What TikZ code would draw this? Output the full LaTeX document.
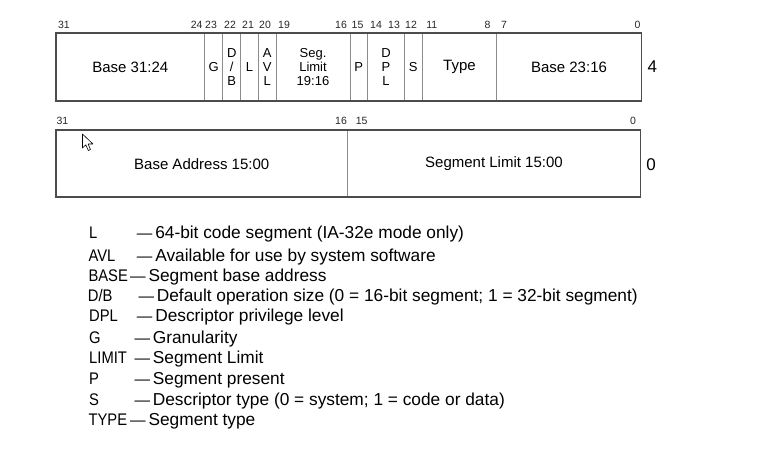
\documentclass[tikz,border=0pt]{standalone}
\usepackage{fontspec}
\setmainfont{Liberation Sans}
\newfontfamily\abbrfont[FakeStretch=0.88]{Liberation Sans}
\newcommand{\legdash}{{\fontsize{15.5}{18}\selectfont —}\,}
\begin{document}
\begin{tikzpicture}[x=1pt,y=-1pt,
  bitnum/.style={font=\fontsize{10.5}{11}\selectfont, anchor=base, inner sep=0, text=black!85},
  fieldtext/.style={font=\fontsize{15}{16}\selectfont, inner sep=0},
  coltext/.style={font=\fontsize{13}{14}\selectfont, inner sep=0, align=center},
  divider/.style={draw=black!45, line width=0.8pt},
  frame/.style={draw=black!70, line width=1.1pt},
  rowlabel/.style={font=\fontsize{17}{18}\selectfont, inner sep=0},
  abbr/.style={font=\abbrfont\fontsize{16.8}{18}\selectfont, anchor=base west, inner sep=0},
  desc/.style={font=\fontsize{17.3}{18}\selectfont, anchor=base west, inner sep=0}]
\useasboundingbox (0,0) rectangle (783,467);

% ---- upper descriptor word (offset 4) ----
\foreach \x in {204.7,222.7,240.7,258.3,276,350,367.7,404.3,422.3,496.7}
  \draw[divider] (\x,33) -- (\x,101);
\draw[frame] (56,33) rectangle (641.5,101);

\node[fieldtext] (b3124) at (130.3,67) {Base 31:24};
\node[coltext] (g)   at (213.7,67) {G};
\node[coltext] (db)  at (231.7,67) {D\\/\\B};
\node[coltext] (l)   at (249.5,67) {L};
\node[coltext] (avl) at (267.2,67) {A\\V\\L};
\node[coltext] (seg) at (313,67) {Seg.\\Limit\\19:16};
\node[coltext] (p)   at (358.8,67) {P};
\node[coltext] (dpl) at (386,67) {D\\P\\L};
\node[coltext] (s)   at (413.3,67) {S};
\node[fieldtext] (type) at (459.5,67) {Type};
\node[fieldtext] (b2316) at (569,67) {Base 23:16};
\node[rowlabel] (w4) at (652.3,67) {4};

\foreach \x/\t [count=\i] in {64/31,196.7/24,211/23,230/22,248/21,265/20,284/19,
    341/16,357.5/15,376/14,394/13,411/12,431.7/11,487.5/8,504/7,637.5/0}
  \node[bitnum] (hi\i) at (\x,28) {\t};

% ---- lower descriptor word (offset 0) ----
\draw[divider] (347.3,130) -- (347.3,197);
\draw[frame] (56,130) rectangle (640.5,197);
\node[fieldtext] (baseaddr) at (201.7,164) {Base Address 15:00};
\node[fieldtext] (seglim) at (494,164) {Segment Limit 15:00};
\node[rowlabel] (w0) at (651,165) {0};

\foreach \x/\t [count=\i] in {62.5/31,341/16,361.7/15,633/0}
  \node[bitnum] (lo\i) at (\x,124) {\t};

% mouse pointer
\draw[fill=white, draw=black, line width=0.6pt, line join=round]
  (82.5,134) -- ++(0,14) -- ++(3.3,-3.2) -- ++(2.5,5.7) -- ++(2.2,-1)
  -- ++(-2.4,-5.5) -- ++(4.8,0) -- cycle;

% ---- legend ----
\foreach \ax/\dx/\y/\a/\d [count=\i] in {
    89/136.7/238.3/L/64-bit code segment (IA-32e mode only),
    88.3/136.7/261/AVL/Available for use by system software,
    88.3/130/281/BASE/Segment base address,
    87.7/138.3/301.7/D\slash B/Default operation size (0 = 16-bit segment; 1 = 32-bit segment),
    89/136.7/321.7/DPL/Descriptor privilege level,
    89/134.3/343.3/G/Granularity,
    89/134.3/363.3/LIMIT/Segment Limit,
    89/134.3/384.3/P/Segment present,
    89/134.3/405/S/Descriptor type (0 = system; 1 = code or data),
    88.3/130/425.7/TYPE/Segment type}
{
  \node[abbr] (ab\i) at (\ax,\y) {\a};
  \node[desc] (de\i) at (\dx,\y) {\legdash\d};
}
\end{tikzpicture}
\end{document}
